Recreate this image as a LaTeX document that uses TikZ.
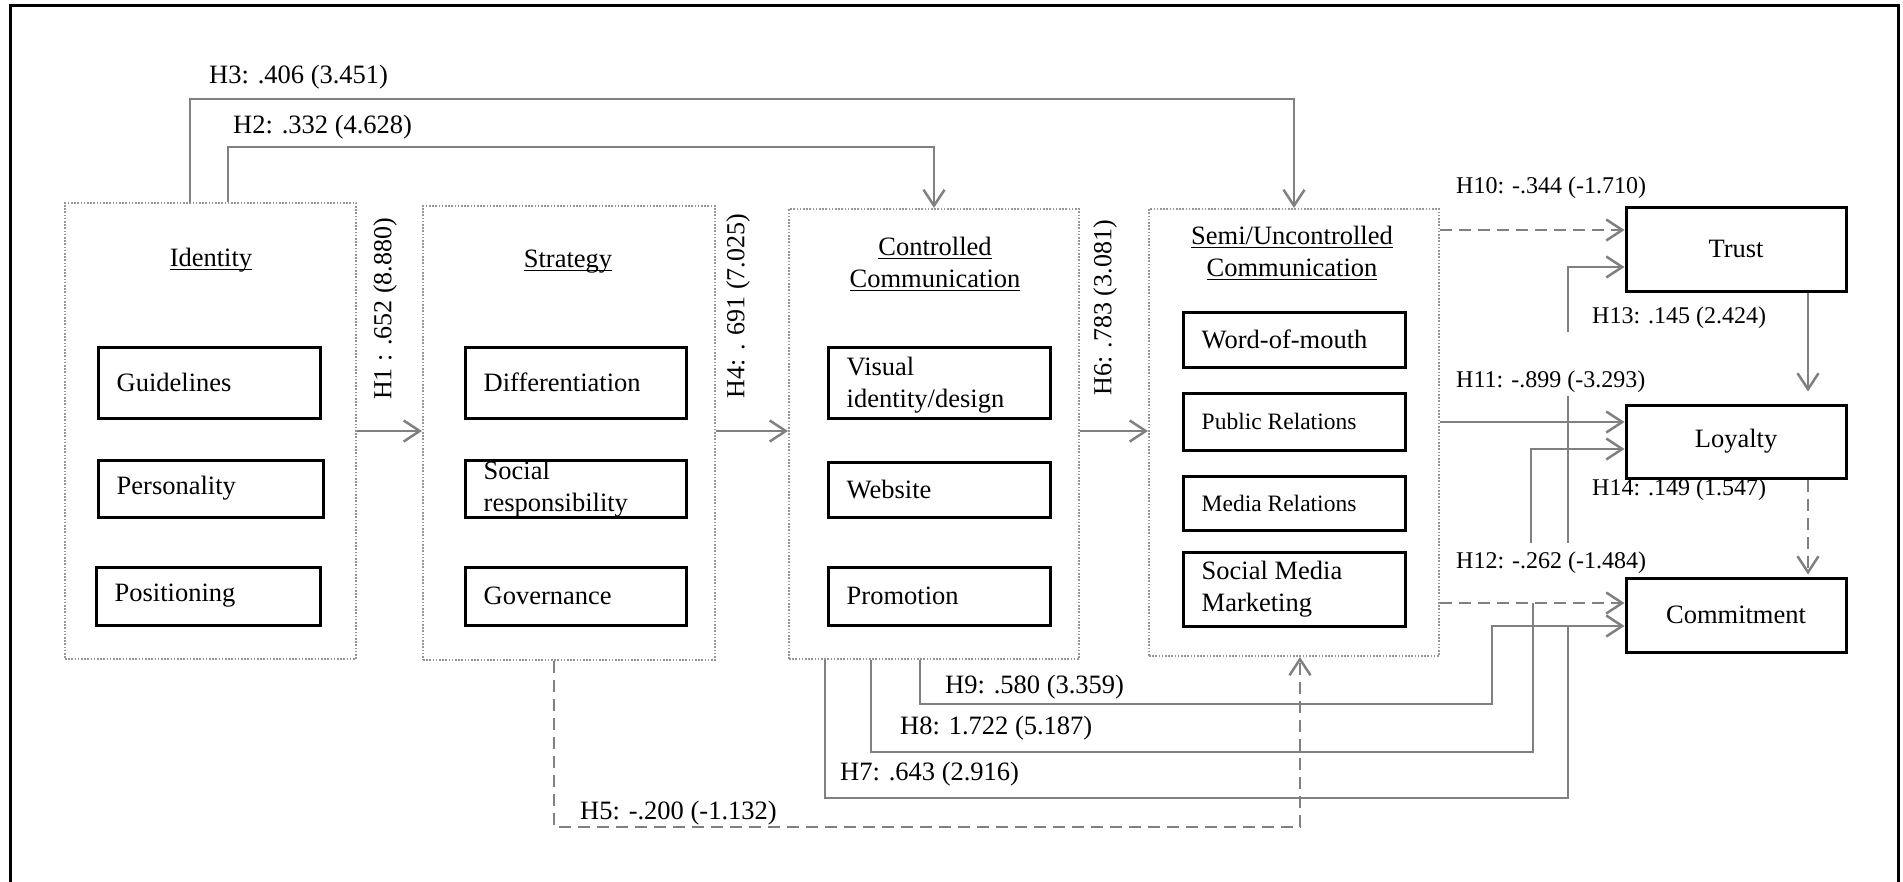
\documentclass[tikz,border=0pt]{standalone}
\usepackage{fontspec}
\setmainfont{Liberation Serif}
\usetikzlibrary{arrows.meta}
\definecolor{lg}{RGB}{128,128,128}
\definecolor{dg}{RGB}{150,150,150}
\newcommand{\myul}[1]{\setbox0\hbox{#1}\rlap{\rule[-3.5pt]{\wd0}{1.3pt}}\box0}
\begin{document}
\begin{tikzpicture}[x=1pt,y=-1pt,
  >={Straight Barb[length=16pt,width=21pt]},
  conn/.style={draw=lg,line width=2.5pt},
  dsh/.style={dash pattern=on 12pt off 7pt},
  grp/.style={draw=dg,line width=2pt,dash pattern=on 1.6pt off 1.6pt,inner sep=0pt},
  box/.style={draw=black,line width=3pt,inner sep=0pt},
  mainf/.style={font=\fontsize{26.5}{32}\selectfont},
  smallf/.style={font=\fontsize{23.5}{28}\selectfont},
  btxt/.style={anchor=west,inner sep=0pt,align=left,xshift=20pt},
  head/.style={inner sep=0pt,align=center,mainf},
  llab/.style={anchor=west,inner sep=0pt,mainf},
  rlab/.style={anchor=west,inner sep=0pt,font=\fontsize{24}{29}\selectfont},
  vlab/.style={rotate=90,inner sep=0pt,font=\fontsize{26}{30}\selectfont}]
\useasboundingbox (0,0) rectangle (1903,881);
\draw[line width=3pt] (10,5) rectangle (1898,886);

% group boxes
\node[grp,minimum width=291pt,minimum height=456pt] (ident) at (210.5,431) {};
\node[grp,minimum width=292pt,minimum height=454pt] (strat) at (569,433) {};
\node[grp,minimum width=290pt,minimum height=450pt] (ctrl) at (934,434) {};
\node[grp,minimum width=290pt,minimum height=447pt] (semi) at (1294,432.5) {};

% headings
\node[head] (identh) at (211,260) {\myul{Identity}};
\node[head] (strath) at (568,262) {\myul{Strategy}};
\node[head] (ctrlh) at (935,264) {\myul{Controlled}\\\myul{Communication}};
\node[head] (semih) at (1292,253) {\myul{Semi/Uncontrolled}\\\myul{Communication}};

% identity items
\node[box,minimum width=222pt,minimum height=71pt] (guide) at (209,382.5) {};
\node[btxt,mainf] at (guide.west) {Guidelines};
\node[box,minimum width=225pt,minimum height=57pt] (pers) at (210.5,488.5) {};
\node[btxt,mainf] at (pers.west) {Personality};
\node[box,minimum width=224pt,minimum height=58pt] (posi) at (208,596) {};
\node[btxt,mainf] at (posi.west) {Positioning};

% strategy items
\node[box,minimum width=221pt,minimum height=71pt] (diff) at (575.5,382.5) {};
\node[btxt,mainf] at (diff.west) {Differentiation};
\node[box,minimum width=221pt,minimum height=57pt] (socr) at (575.5,488.5) {};
\node[btxt,mainf] at ([yshift=-1pt]socr.west) {Social\\responsibility};
\node[box,minimum width=221pt,minimum height=58pt] (gov) at (575.5,596) {};
\node[btxt,mainf] at (gov.west) {Governance};

% controlled items
\node[box,minimum width=222pt,minimum height=71pt] (vis) at (939,382.5) {};
\node[btxt,mainf] at ([yshift=-3pt]vis.west) {Visual\\identity/design};
\node[box,minimum width=222pt,minimum height=55pt] (web) at (939,489.5) {};
\node[btxt,mainf] at (web.west) {Website};
\node[box,minimum width=222pt,minimum height=58pt] (promo) at (939,596) {};
\node[btxt,mainf] at (promo.west) {Promotion};

% semi items
\node[box,minimum width=222pt,minimum height=55pt] (wom) at (1294,339.5) {};
\node[btxt,mainf] at (wom.west) {Word-of-mouth};
\node[box,minimum width=222pt,minimum height=57pt] (pr) at (1294,421.5) {};
\node[btxt,smallf] at (pr.west) {Public Relations};
\node[box,minimum width=222pt,minimum height=54pt] (media) at (1294,503) {};
\node[btxt,smallf] at (media.west) {Media Relations};
\node[box,minimum width=222pt,minimum height=74pt] (smm) at (1294,589) {};
\node[btxt,mainf] at (smm.west) {Social Media\\Marketing};

% outcome boxes
\node[box,minimum width=220pt,minimum height=84pt,mainf] (trust) at (1736,249) {Trust};
\node[box,minimum width=220pt,minimum height=73pt,mainf] (loyal) at (1736,441.5) {Loyalty};
\node[box,minimum width=220pt,minimum height=74pt,mainf] (commit) at (1736,615) {Commitment};

% helper coordinates
\coordinate (xH3) at (190,0);
\coordinate (xH2) at (228,0);
\coordinate (yH3) at (0,99);
\coordinate (yH2) at (0,147);
\coordinate (xH5) at (554,0);
\coordinate (xS5) at (1300,0);
\coordinate (xH7) at (825,0);
\coordinate (xH8) at (871,0);
\coordinate (xH9) at (920,0);
\coordinate (yArr) at (0,431);
\coordinate (yH10) at (0,230);
\coordinate (yH13) at (0,267);
\coordinate (yH11) at (0,422);
\coordinate (yL2) at (0,449);
\coordinate (yH12) at (0,603);
\coordinate (yC2) at (0,626);
\coordinate (xTL) at (1808,0);

% sequential arrows
\draw[conn,->] (ident.east |- yArr) -- (strat.west |- yArr);
\draw[conn,->] (strat.east |- yArr) -- (ctrl.west |- yArr);
\draw[conn,->] (ctrl.east |- yArr) -- (semi.west |- yArr);
\node[vlab] (h1) at (385,309) {H1 : .652 (8.880)};
\node[vlab] (h4) at (738,306) {H4: . 691 (7.025)};
\node[vlab] (h6) at (1105,308) {H6: .783 (3.081)};

% top arrows
\draw[conn,->] (ident.north -| xH3) |- (semi.north |- yH3) -- (semi.north);
\draw[conn,->] (ident.north -| xH2) |- (ctrl.north |- yH2) -- (ctrl.north);
\node[llab] (h3) at (209,77) {H3: .406 (3.451)};
\node[llab] (h2) at (233,127) {H2: .332 (4.628)};

% H5
\draw[conn,dsh,->] (strat.south -| xH5) |- (1300,827) -- (semi.south -| xS5);
\node[llab] (h5) at (580,813) {H5: -.200 (-1.132)};

% H7, H8, H9
\draw[conn] (ctrl.south -| xH7) |- (1568,798) -- (1568,626);
\draw[conn] (ctrl.south -| xH8) |- (1533,752) -- (1533,603);
\draw[conn,->] (ctrl.south -| xH9) |- (1492,704) |- (commit.west |- yC2);
\node[llab] (h7) at (840,774) {H7: .643 (2.916)};
\node[llab] (h8) at (900,728) {H8: 1.722 (5.187)};
\node[llab] (h9) at (945,687) {H9: .580 (3.359)};

% right side
\draw[conn,dsh,->] (semi.east |- yH10) -- (trust.west |- yH10);
\draw[conn,->] (1568,332) |- (trust.west |- yH13);
\draw[conn,->] (semi.east |- yH11) -- (loyal.west |- yH11);
\draw[conn] (1568,396) -- (1568,543);
\draw[conn,->] (1531,543) |- (loyal.west |- yL2);
\draw[conn,dsh,->] (semi.east |- yH12) -- (commit.west |- yH12);
\draw[conn,->] (trust.south -| xTL) -- ([yshift=12pt]loyal.north -| xTL);
\draw[conn,dsh,->] (loyal.south -| xTL) -- ([yshift=2pt]commit.north -| xTL);
\node[rlab] (h10) at (1456,188) {H10: -.344 (-1.710)};
\node[rlab] (h13) at (1592,318) {H13: .145 (2.424)};
\node[rlab] (h11) at (1456,382) {H11: -.899 (-3.293)};
\node[rlab] (h14) at (1592,490) {H14: .149 (1.547)};
\node[rlab] (h12) at (1456,563) {H12: -.262 (-1.484)};
\end{tikzpicture}
\end{document}
